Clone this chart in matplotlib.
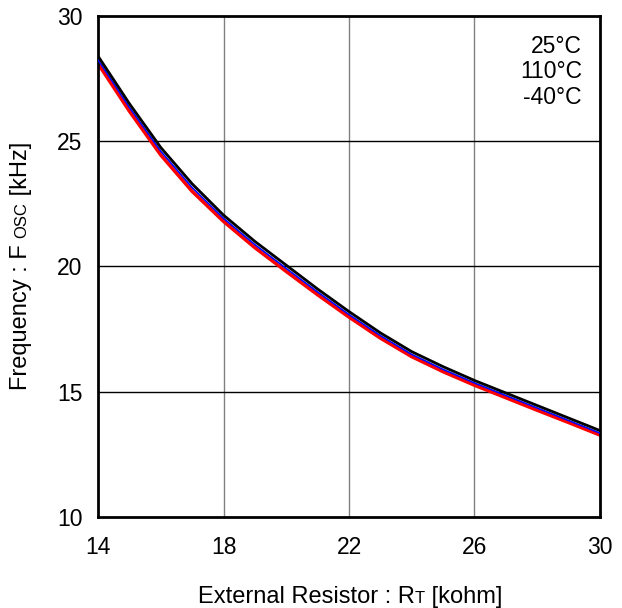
import matplotlib
matplotlib.use("Agg")
import matplotlib.pyplot as plt

plt.rcParams['font.family'] = ['Liberation Sans', 'DejaVu Sans']

# resistor RT [kohm]
rt = [14, 15, 16, 17, 18, 19, 20, 21, 22, 23, 24, 25, 26, 27, 28, 29, 30]
# frequency FOSC [kHz]
f_25 = [28.4, 26.5, 24.75, 23.3, 22.05, 21.0, 20.05, 19.1, 18.2, 17.35, 16.6, 16.0, 15.45, 14.95, 14.45, 13.95, 13.45]
f_110 = [28.25, 26.35, 24.6, 23.15, 21.92, 20.87, 19.92, 18.98, 18.08, 17.24, 16.49, 15.89, 15.35, 14.85, 14.35, 13.85, 13.35]
f_m40 = [28.1, 26.2, 24.45, 23.0, 21.8, 20.75, 19.8, 18.87, 17.98, 17.14, 16.4, 15.8, 15.26, 14.76, 14.26, 13.77, 13.27]
legend_txt = ["25°C", "110°C", "-40°C"]
xticks = [14, 18, 22, 26, 30]
yticks = [10, 15, 20, 25, 30]

fig = plt.figure(figsize=(6.22, 6.08), dpi=100)
ax = fig.add_axes([0.1576, 0.1497, 0.807, 0.824])

# grid: vertical gray, horizontal black
for x in xticks[1:-1]:
    ax.axvline(x, color='#808080', lw=1, zorder=1)
for y in yticks[1:-1]:
    ax.axhline(y, color='black', lw=1, zorder=1)

ax.plot(rt, f_m40, color='red', lw=2.5, zorder=2)
ax.plot(rt, f_110, color='blue', lw=1.2, zorder=3)
ax.plot(rt, f_25, color='black', lw=2, zorder=4)

ax.set_xlim(14, 30)
ax.set_ylim(10, 30)
ax.set_xticks(xticks)
ax.set_yticks(yticks)
ax.tick_params(length=0, labelsize=16.5)
ax.tick_params(axis='x', pad=14)
ax.tick_params(axis='y', pad=11)
for s in ax.spines.values():
    s.set_linewidth(2)

# legend text only
for i, t in enumerate(legend_txt):
    ax.text(0.964, 0.94 - i * 0.051, t, transform=ax.transAxes, ha='right', va='center', fontsize=16.5)

# labels with small subscript-like parts
def rich(parts, x, y, rotation=0):
    r = fig.canvas.get_renderer()
    texts = []
    total = 0
    for s, size in parts:
        t = fig.text(0, 0, s, fontsize=size, rotation=rotation, rotation_mode='anchor',
                     ha='left', va='baseline')
        bb = t.get_window_extent(r)
        w = bb.width if rotation == 0 else bb.height
        texts.append((t, w))
        total += w
    W, H = fig.get_size_inches() * fig.dpi
    pos = -total / 2
    for t, w in texts:
        if rotation == 0:
            t.set_position((x + pos / W, y))
        else:
            t.set_position((x, y + pos / H))
        pos += w

rich([("External Resistor : R", 17), ("T", 12), (" [kohm]", 17)], 0.5627, 0.009)
rich([("Frequency : F ", 17), ("OSC", 12), (" [kHz]", 17)], 0.043, 0.5625, rotation=90)

fig.savefig("out.png", dpi=100)
